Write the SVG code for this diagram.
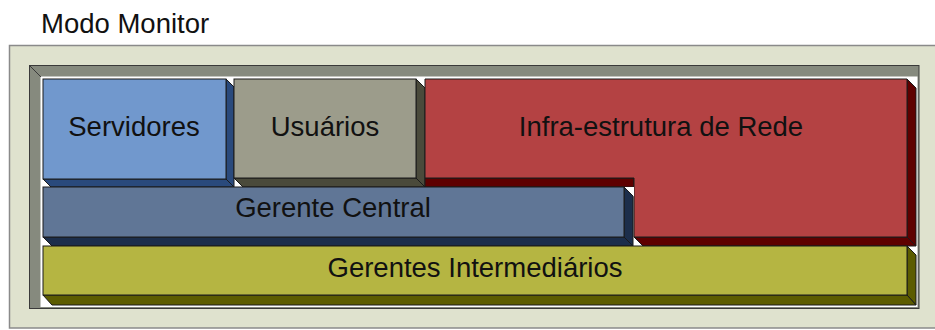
<svg xmlns="http://www.w3.org/2000/svg" width="935" height="330" viewBox="0 0 935 330">
<style>
text{font-family:"Liberation Sans",Arial,sans-serif;font-size:27.5px;fill:#111;text-anchor:middle}
.ln{stroke:#1a1a1a;stroke-width:1;stroke-linejoin:miter}
.bf{fill:#7198cd}.bs{fill:#2a4a7c}
.gf{fill:#9c9c8b}.gs{fill:#4a4a3b}
.rf{fill:#b44243}.rs{fill:#5e0000}
.cf{fill:#607696}.cs{fill:#1c2e4b}
.yf{fill:#b5b542}.ys{fill:#5c5c00}
</style>
<rect x="0" y="0" width="935" height="330" fill="#ffffff"/>
<g id="monitor-frame">
<text x="41" y="33" style="text-anchor:start">Modo Monitor</text>
<rect x="9.5" y="45.5" width="935" height="282.5" fill="#dfe2ce" stroke="#8a8a8a" stroke-width="1.5"/>
<rect x="29.5" y="65.5" width="889.5" height="243" fill="#868a7e" stroke="#3a3a3a" stroke-width="1"/>
<rect x="40.5" y="76.5" width="877" height="230.5" fill="#ffffff"/>
<line x1="29.5" y1="65.5" x2="41" y2="77" stroke="#3a3a3a" stroke-width="1"/>
</g>
<g id="servidores">
<polygon class="bs ln" points="226,79 234,87 234,187 226,179"/>
<polygon class="bs ln" points="43,179 226,179 234,187 51,187"/>
<rect class="bf ln" x="43" y="79" width="183" height="100"/>
<text x="134" y="136">Servidores</text>
</g>
<g id="usuarios">
<polygon class="gs ln" points="416,79 425,88 425,187 416,178"/>
<polygon class="gs ln" points="234,178 416,178 425,187 243,187"/>
<rect class="gf ln" x="234" y="79" width="182" height="99"/>
<text x="325" y="136">Usuários</text>
</g>
<g id="infra">
<polygon class="rs ln" points="907,79 916,88 916,246 907,237"/>
<polygon class="rs ln" points="634,237 907,237 916,246 643,246"/>
<polygon class="rs ln" points="425,178 634,178 634,187 425,187"/>
<polygon fill="#c00000" points="634,178 643,187 634,187"/>
<polygon class="rf ln" points="425,79 907,79 907,237 634,237 634,178 425,178"/>
<text x="661" y="136">Infra-estrutura de Rede</text>
</g>
<g id="gerente-central">
<polygon fill="#ffffff" points="624,187 634,187 634,197"/>
<polygon class="cs ln" points="624,187 633,196 633,246 624,237"/>
<polygon class="cs ln" points="43,237 624,237 633,246 52,246"/>
<rect class="cf ln" x="43" y="187" width="581" height="50"/>
<text x="333" y="217">Gerente Central</text>
</g>
<g id="gerentes-intermediarios">
<polygon class="ys ln" points="907,246 916,255 916,305 907,295"/>
<polygon class="ys ln" points="43,295 907,295 916,305 52,305"/>
<rect class="yf ln" x="43" y="246" width="864" height="49"/>
<text x="475" y="277">Gerentes Intermediários</text>
</g>
<g id="connectors"/>
</svg>
